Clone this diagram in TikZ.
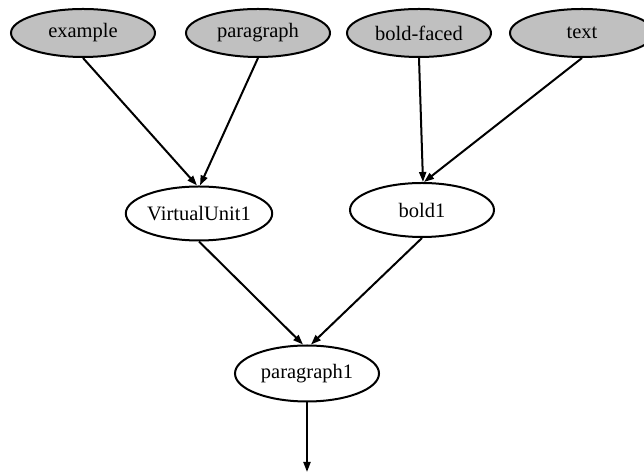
\documentclass[tikz,border=0pt]{standalone}
\usepackage{fontspec}
\setmainfont{Liberation Serif}
\usetikzlibrary{shapes.geometric,arrows.meta}
\definecolor{nodegray}{HTML}{C0C0C0}
\begin{document}
\begin{tikzpicture}[x=1pt,y=1pt,
  vnode/.style={ellipse, draw=black, line width=2pt, minimum width=144pt, minimum height=50pt, inner sep=0pt, font=\fontsize{20.5}{24}\selectfont},
  gnode/.style={vnode, fill=nodegray, minimum height=48pt},
  edge/.style={line width=2pt, -{Triangle[length=10pt,width=7pt]}}]
\useasboundingbox (0,0) rectangle (644,473);
\node[gnode] (ex) at (83,440) {example};
\node[gnode] (pa) at (258,440) {paragraph};
\node[gnode] (bf) at (419,440) {bold-faced};
\node[gnode] (tx) at (582,440) {text};
\node[vnode, minimum height=54pt] (vu) at (199,259.5) {VirtualUnit1};
\node[vnode, minimum height=54pt] (b1) at (422,263) {bold1};
\node[vnode, minimum height=56pt] (p1) at (307,99.5) {paragraph1};
\coordinate (out) at (307,1);
\draw[edge] (ex.south) -- ([xshift=-2pt]vu.north);
\draw[edge] (pa.south) -- ([xshift=1pt]vu.north);
\draw[edge] (bf.south) -- ([xshift=1pt]b1.north);
\draw[edge] (tx.south) -- ([xshift=2pt]b1.north);
\draw[edge] (vu.south) -- ([xshift=-4pt]p1.north);
\draw[edge] (b1.south) -- ([xshift=4pt]p1.north);
\draw[edge] (p1.south) -- (out);
\end{tikzpicture}
\end{document}
